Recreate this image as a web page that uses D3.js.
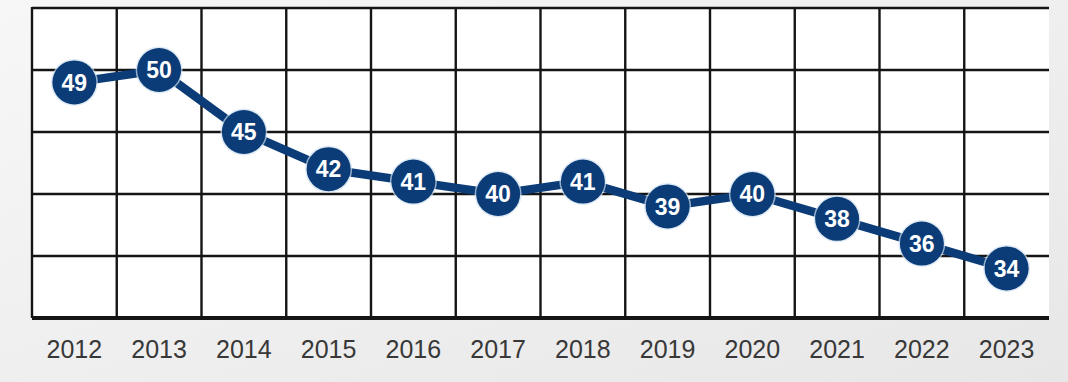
<!DOCTYPE html>
<html>
<head>
<meta charset="utf-8">
<script src="https://cdn.jsdelivr.net/npm/d3@7"></script>
<style>
  html, body { margin: 0; padding: 0; background: #f1f1f1; }
  svg { display: block; }
</style>
</head>
<body>
<svg id="chart" width="1068" height="382"></svg>
<script>
// Yearly values plotted as a connected line of labelled dots
const years = ["2012","2013","2014","2015","2016","2017","2018","2019","2020","2021","2022","2023"];
const values = [49, 50, 45, 42, 41, 40, 41, 39, 40, 38, 36, 34];
const yTicks = [30, 35, 40, 45, 50, 55];

const W = 1068, H = 382;
const plotLeft = 32, plotRight = 1049, plotTop = 8, plotBottom = 318;
const navy = "#0b3c78";

const svg = d3.select("#chart");

// soft grey backdrop
const defs = svg.append("defs");
const bg = defs.append("linearGradient").attr("id", "bg")
  .attr("x1", 0).attr("y1", 0).attr("x2", 1).attr("y2", 1);
bg.append("stop").attr("offset", "0%").attr("stop-color", "#f7f7f7");
bg.append("stop").attr("offset", "100%").attr("stop-color", "#e7e7e7");
svg.append("rect").attr("width", W).attr("height", H).attr("fill", "url(#bg)");

const x = d3.scaleBand().domain(years).range([plotLeft, plotRight]).padding(0);
const y = d3.scaleLinear().domain([30, 55]).range([plotBottom, plotTop]);

// plot area
svg.append("rect")
  .attr("x", plotLeft).attr("y", plotTop)
  .attr("width", plotRight - plotLeft).attr("height", plotBottom - plotTop)
  .attr("fill", "#ffffff");

const grid = svg.append("g").attr("stroke", "#151515");

// horizontal grid lines
grid.selectAll("line.h").data(yTicks).join("line")
  .attr("class", "h")
  .attr("x1", plotLeft).attr("x2", plotRight)
  .attr("y1", d => y(d)).attr("y2", d => y(d))
  .attr("stroke-width", d => d === 30 ? 3.8 : 2.4);

// vertical grid lines at the start of each year column
grid.selectAll("line.v").data(years).join("line")
  .attr("class", "v")
  .attr("x1", d => x(d)).attr("x2", d => x(d))
  .attr("y1", y(55) - 1).attr("y2", y(30))
  .attr("stroke-width", 2.4);

// year labels
svg.append("g").selectAll("text").data(years).join("text")
  .attr("x", d => x(d) + x.bandwidth() / 2)
  .attr("y", 358)
  .attr("text-anchor", "middle")
  .attr("font-family", "Liberation Sans, Arial, sans-serif")
  .attr("font-size", 25)
  .attr("fill", "#383838")
  .text(d => d);

const pts = years.map((yr, i) => ({ yr, v: values[i] }));
const cx = d => x(d.yr) + x.bandwidth() / 2;

// connecting line
svg.append("path")
  .datum(pts)
  .attr("fill", "none")
  .attr("stroke", navy)
  .attr("stroke-width", 8.5)
  .attr("stroke-linejoin", "round")
  .attr("d", d3.line().x(cx).y(d => y(d.v)));

// dots with value labels
const dots = svg.append("g").selectAll("g").data(pts).join("g")
  .attr("transform", d => `translate(${cx(d)},${y(d.v)})`);

dots.append("circle")
  .attr("r", 23.5)
  .attr("fill", "#cfe0f0")
  .attr("opacity", 0.7);
dots.append("circle")
  .attr("r", 22)
  .attr("fill", navy);

dots.append("text")
  .attr("text-anchor", "middle")
  .attr("dy", "0.36em")
  .attr("font-family", "Liberation Sans, Arial, sans-serif")
  .attr("font-weight", "bold")
  .attr("font-size", 23)
  .attr("fill", "#ffffff")
  .text(d => d.v);
</script>
</body>
</html>
